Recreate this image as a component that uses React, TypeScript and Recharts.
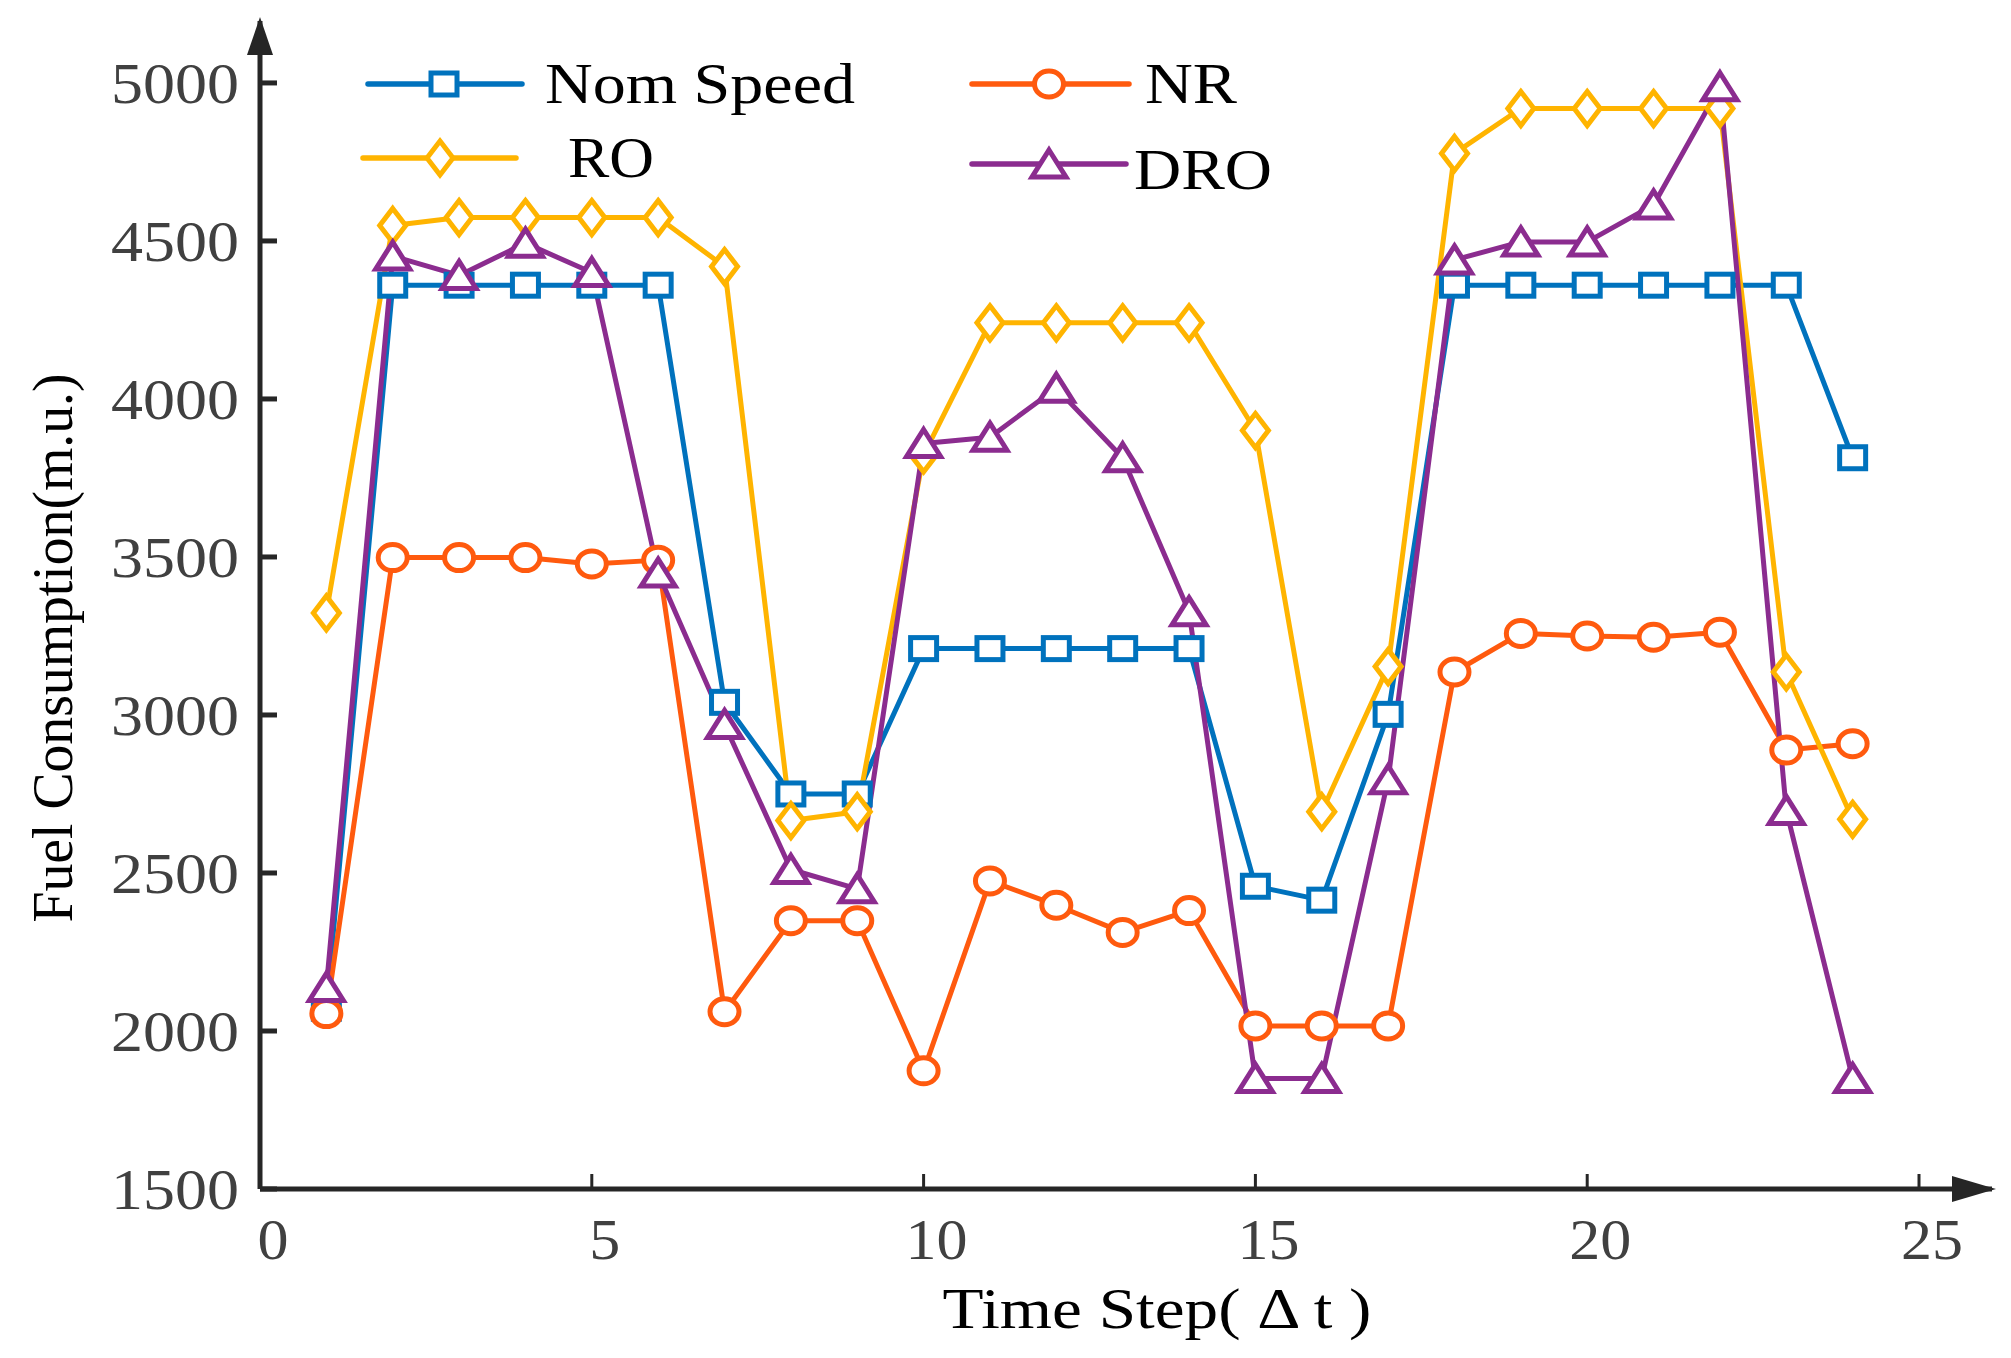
import { LineChart, Line, XAxis, YAxis } from "recharts";

// time steps 1..24
const steps = [1, 2, 3, 4, 5, 6, 7, 8, 9, 10, 11, 12, 13, 14, 15, 16, 17, 18, 19, 20, 21, 22, 23, 24];

const nomSpeed = [2072, 4360, 4360, 4360, 4360, 4360, 3040, 2750, 2750, 3210, 3210, 3210, 3210, 3210, 2458, 2414, 3002, 4360, 4360, 4360, 4360, 4360, 4360, 3814];
const nr = [2055, 3498, 3498, 3498, 3478, 3490, 2061, 2349, 2349, 1874, 2475, 2398, 2312, 2381, 2016, 2016, 2016, 3136, 3258, 3250, 3246, 3262, 2889, 2909];
const ro = [3323, 4549, 4574, 4574, 4574, 4574, 4419, 2666, 2694, 3823, 4241, 4241, 4241, 4241, 3900, 2694, 3153, 4777, 4919, 4919, 4919, 4919, 3136, 2670];
const dro = [2138, 4452, 4391, 4493, 4400, 3449, 2970, 2511, 2450, 3859, 3879, 4034, 3814, 3327, 1850, 1850, 2795, 4440, 4497, 4497, 4614, 4988, 2698, 1850];

const xTicks = [0, 5, 10, 15, 20, 25];
const yTicks = [1500, 2000, 2500, 3000, 3500, 4000, 4500, 5000];

const seriesNames = ["Nom Speed", "NR", "RO", "DRO"];
const seriesKeys = ["nom", "nr", "ro", "dro"];
const seriesColors = ["#0072BD", "#FF5A0E", "#FFB400", "#8B2C8F"];
const seriesShapes = ["square", "circle", "diamond", "triangle"];

const data = steps.map((s, i) => ({
  step: s,
  nom: nomSpeed[i],
  nr: nr[i],
  ro: ro[i],
  dro: dro[i],
}));

const FONT = "Liberation Serif, Times New Roman, serif";
const AXIS = "#262626";

function Marker({ shape, cx, cy, color }: { shape: string; cx: number; cy: number; color: string }) {
  const common = { fill: "#fff", stroke: color, strokeWidth: 5 };
  if (shape === "square")
    return <rect x={cx - 13} y={cy - 11} width={26} height={22} {...common} />;
  if (shape === "circle") return <ellipse cx={cx} cy={cy} rx={14.5} ry={13} {...common} />;
  if (shape === "diamond")
    return <path d={`M${cx},${cy - 17}L${cx + 13},${cy}L${cx},${cy + 17}L${cx - 13},${cy}Z`} {...common} />;
  return <path d={`M${cx},${cy - 14}L${cx + 17},${cy + 13}L${cx - 17},${cy + 13}Z`} {...common} />;
}

const renderDot = (i: number) => (props: any) => {
  const { cx, cy, index } = props;
  if (cx == null || cy == null) return <g key={`d-${i}-${index}`} />;
  return (
    <g key={`d-${i}-${index}`}>
      <Marker shape={seriesShapes[i]} cx={cx} cy={cy} color={seriesColors[i]} />
    </g>
  );
};

const textStyle = { fontFamily: FONT };

const YTick = (props: any) => {
  const { x, y, payload } = props;
  const s = String(payload.value);
  return (
    <text x={x} y={y} dy={20} textAnchor="end" style={textStyle} fontSize={58} fill="#404040"
      textLength={s.length * 32} lengthAdjust="spacingAndGlyphs">
      {s}
    </text>
  );
};

const XTick = (props: any) => {
  const { x, y, payload } = props;
  const s = String(payload.value);
  return (
    <text x={x + 13} y={y} dy={41} textAnchor="middle" style={textStyle} fontSize={58} fill="#404040"
      textLength={s.length * 31} lengthAdjust="spacingAndGlyphs">
      {s}
    </text>
  );
};

// legend layout: [lineStart, lineEnd, markerX, y, textX, textY]
const legendPos = [
  [368, 522, 444, 84, 545, 103],
  [972, 1129, 1049, 84, 1145, 103],
  [363, 516, 440, 158, 568, 177],
  [972, 1126, 1049, 164, 1134, 189],
];
const legendTextLen = [310, 92, 86, 138];

export default function App() {
  return (
    <div style={{ position: "absolute", left: 0, top: 0, width: 2011, height: 1358, background: "#fff" }}>
      <svg width={0} height={0} style={{ position: "absolute" }}>
        <defs>
          <marker id="arrowY" viewBox="0 0 38 26" refX={34} refY={13} markerWidth={38} markerHeight={26}
            markerUnits="userSpaceOnUse" orient="auto-start-reverse">
            <path d="M0,0L38,13L0,26Z" fill={AXIS} />
          </marker>
          <marker id="arrowX" viewBox="0 0 44 26" refX={40} refY={13} markerWidth={44} markerHeight={26}
            markerUnits="userSpaceOnUse" orient="auto-start-reverse">
            <path d="M0,0L44,13L0,26Z" fill={AXIS} />
          </marker>
        </defs>
      </svg>
      <LineChart width={2011} height={1358} data={data} margin={{ top: 21, right: 19, bottom: 0, left: 0 }}>
        <XAxis
          dataKey="step"
          type="number"
          domain={[0, 26.1]}
          ticks={xTicks}
          interval={0}
          height={169}
          tickSize={-15}
          tickMargin={44}
          tick={<XTick />}
          axisLine={{ stroke: AXIS, strokeWidth: 5, markerEnd: "url(#arrowX)" }}
          tickLine={{ stroke: AXIS, strokeWidth: 3 }}
          label={{
            content: () => (
              <text x={1157} y={1328} textAnchor="middle" style={textStyle} fontSize={58} fill="#000"
                textLength={429} lengthAdjust="spacingAndGlyphs">
                Time Step( Δ t )
              </text>
            ),
          }}
        />
        <YAxis
          type="number"
          domain={[1500, 5196]}
          ticks={yTicks}
          interval={0}
          width={260}
          tickSize={-17}
          tickMargin={38}
          tick={<YTick />}
          axisLine={{ stroke: AXIS, strokeWidth: 5, markerStart: "url(#arrowY)" }}
          tickLine={{ stroke: AXIS, strokeWidth: 5 }}
          label={{
            content: () => (
              <text x={72} y={648} transform="rotate(-90 72 648)" textAnchor="middle" style={textStyle}
                fontSize={58} fill="#000" textLength={549} lengthAdjust="spacingAndGlyphs">
                Fuel Consumption(m.u.)
              </text>
            ),
          }}
        />
        {seriesKeys.map((k, i) => (
          <Line
            key={k}
            dataKey={k}
            name={seriesNames[i]}
            stroke={seriesColors[i]}
            strokeWidth={5}
            strokeLinejoin="round"
            dot={renderDot(i)}
            activeDot={false}
            isAnimationActive={false}
          />
        ))}
      </LineChart>
      <svg width={2011} height={260} style={{ position: "absolute", left: 0, top: 0, pointerEvents: "none" }}>
        {seriesNames.map((name, i) => {
          const [x1, x2, mx, y, tx, ty] = legendPos[i];
          return (
            <g key={name}>
              <line x1={x1} x2={x2} y1={y} y2={y} stroke={seriesColors[i]} strokeWidth={5.5} strokeLinecap="round" />
              <Marker shape={seriesShapes[i]} cx={mx} cy={y} color={seriesColors[i]} />
              <text x={tx} y={ty} style={textStyle} fontSize={58} fill="#000"
                textLength={legendTextLen[i]} lengthAdjust="spacingAndGlyphs">
                {name}
              </text>
            </g>
          );
        })}
      </svg>
    </div>
  );
}
